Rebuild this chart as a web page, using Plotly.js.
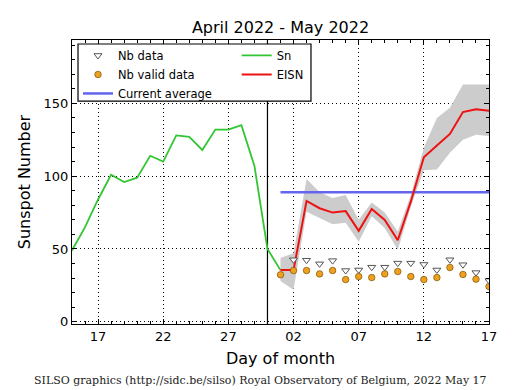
<!DOCTYPE html>
<html>
<head>
<meta charset="utf-8">
<script src="https://cdn.plot.ly/plotly-3.0.1.min.js"></script>
<style>html,body{margin:0;padding:0;background:#fff;}#chart{width:515px;height:390px;}</style>
</head>
<body>
<div id="chart"></div>
<script>
// ---- data ----
const snDates = ['2022-04-15','2022-04-16','2022-04-17','2022-04-18','2022-04-19','2022-04-20','2022-04-21','2022-04-22','2022-04-23','2022-04-24','2022-04-25','2022-04-26','2022-04-27','2022-04-28','2022-04-29','2022-04-30','2022-05-01'];
const snValues = [49, 65, 84, 101, 96, 99, 114, 110, 128, 127, 118, 132, 132, 135, 107, 50, 35.5];

const mayDates = ['2022-05-01','2022-05-02','2022-05-03','2022-05-04','2022-05-05','2022-05-06','2022-05-07','2022-05-08','2022-05-09','2022-05-10','2022-05-11','2022-05-12','2022-05-13','2022-05-14','2022-05-15','2022-05-16','2022-05-17'];
const eisnValues = [35.5, 35.5, 83, 78, 75, 76, 62.5, 77.5, 70, 56, 82.5, 113, 121, 129, 144, 146, 145];
const eisnUpper  = [44, 47, 98, 89, 85, 87, 70, 82, 75, 62, 87, 119.5, 140, 147, 163, 163, 163];
const eisnLower  = [28, 22, 75.5, 71.5, 67, 68, 55, 72.5, 64.5, 49.5, 79, 104, 104.5, 116, 125, 128.5, 127.5];
const nbData      = [null, 42.6, 42.3, 39.8, 42, 35.2, 35.6, 37.5, 37.5, 40.3, 40.3, 39.4, 35.6, 42.6, 39.2, 33.8, 28.3];
const nbValidData = [32.3, 35.2, 35.2, 32.9, 35.2, 29, 31.1, 30.4, 32.9, 34.5, 31.1, 29, 30.4, 37.3, 32.5, 29.3, 24.2];
const avgDates = ['2022-05-01','2022-05-17'];
const avgValues = [89, 89];
const markerDay = '2022-04-30';

const titleText = 'April 2022 - May 2022';
const xTitle = 'Day of month';
const yTitle = 'Sunspot Number';
const footer = 'SILSO graphics (http://sidc.be/silso) Royal Observatory of Belgium, 2022 May 17';

// ---- traces ----
const traces = [
  {x: mayDates, y: eisnLower, type: 'scatter', mode: 'lines', line: {width: 0, color: 'rgba(0,0,0,0)'}, showlegend: false, hoverinfo: 'skip'},
  {x: mayDates, y: eisnUpper, type: 'scatter', mode: 'lines', fill: 'tonexty', fillcolor: '#cccccc', line: {width: 0, color: 'rgba(0,0,0,0)'}, showlegend: false, hoverinfo: 'skip'},
  {x: avgDates, y: avgValues, name: 'Current average', type: 'scatter', mode: 'lines', line: {color: '#6464ec', width: 2.5}, legend: 'legend', legendrank: 3},
  {x: snDates, y: snValues, name: 'Sn', type: 'scatter', mode: 'lines', line: {color: '#33c633', width: 1.8}, legend: 'legend2', legendrank: 1},
  {x: mayDates, y: eisnValues, name: 'EISN', type: 'scatter', mode: 'lines', line: {color: '#ee1111', width: 2}, legend: 'legend2', legendrank: 2},
  {x: mayDates, y: nbData, name: 'Nb data', type: 'scatter', mode: 'markers', marker: {symbol: 'triangle-down', size: 7, color: '#ffffff', line: {color: '#555555', width: 1}}, legend: 'legend', legendrank: 1},
  {x: mayDates, y: nbValidData, name: 'Nb valid data', type: 'scatter', mode: 'markers', marker: {symbol: 'circle', size: 6.5, color: '#f0a020', line: {color: '#7a5200', width: 0.7}}, legend: 'legend', legendrank: 2}
];

const axisCommon = {
  showline: true, linecolor: '#000', linewidth: 1, mirror: 'ticks',
  ticks: 'inside', ticklen: 5, tickwidth: 1, tickcolor: '#000',
  showgrid: true, gridcolor: '#000', gridwidth: 1, griddash: '1px,3px',
  zeroline: false,
  tickfont: {family: 'DejaVu Sans', size: 13, color: '#000'}
};

const legendCommon = {
  xanchor: 'left', yanchor: 'top', orientation: 'v', traceorder: 'normal',
  bgcolor: 'rgba(0,0,0,0)', borderwidth: 0,
  font: {family: 'DejaVu Sans', size: 11.5, color: '#000'}
};

const layout = {
  width: 515, height: 390,
  margin: {l: 72, r: 26, t: 40, b: 66},
  paper_bgcolor: '#fff', plot_bgcolor: '#fff',
  font: {family: 'DejaVu Sans', color: '#000'},
  title: {text: titleText, font: {family: 'DejaVu Sans', size: 16, color: '#000'}, xref: 'paper', x: 0.5, xanchor: 'center', yref: 'container', y: 0.93, yanchor: 'middle'},
  xaxis: Object.assign({}, axisCommon, {
    type: 'date', range: ['2022-04-15', '2022-05-17'],
    tick0: '2022-04-17', dtick: 432000000, tickformat: '%d',
    minor: {dtick: 86400000, ticks: 'inside', ticklen: 3, tickcolor: '#000', showgrid: false},
    title: {text: xTitle, font: {family: 'DejaVu Sans', size: 16, color: '#000'}, standoff: 10}
  }),
  yaxis: Object.assign({}, axisCommon, {
    range: [-1.5, 193.5], tick0: 0, dtick: 50,
    minor: {dtick: 10, ticks: 'inside', ticklen: 3, tickcolor: '#000', showgrid: false},
    title: {text: yTitle, font: {family: 'DejaVu Sans', size: 16, color: '#000'}, standoff: 8}
  }),
  legend: Object.assign({}, legendCommon, {x: 0.0144, y: 0.9966}),
  legend2: Object.assign({}, legendCommon, {x: 0.395, y: 0.9966}),
  shapes: [
    {type: 'rect', xref: 'paper', yref: 'paper', x0: 0.0144, x1: 0.5731, y0: 0.785, y1: 0.986, fillcolor: '#ffffff', line: {color: '#000', width: 1.2}, layer: 'above'},
    {type: 'line', xref: 'x', yref: 'paper', x0: markerDay, x1: markerDay, y0: 0, y1: 1, line: {color: '#000', width: 1.2}, layer: 'below'}
  ],
  annotations: [
    {text: footer, xref: 'paper', yref: 'paper', x: 0.453, y: -0.2007, xanchor: 'center', yanchor: 'middle', showarrow: false, font: {family: 'DejaVu Serif', size: 11, color: '#222'}}
  ]
};

Plotly.newPlot('chart', traces, layout, {displayModeBar: false, staticPlot: true});
</script>
</body>
</html>
